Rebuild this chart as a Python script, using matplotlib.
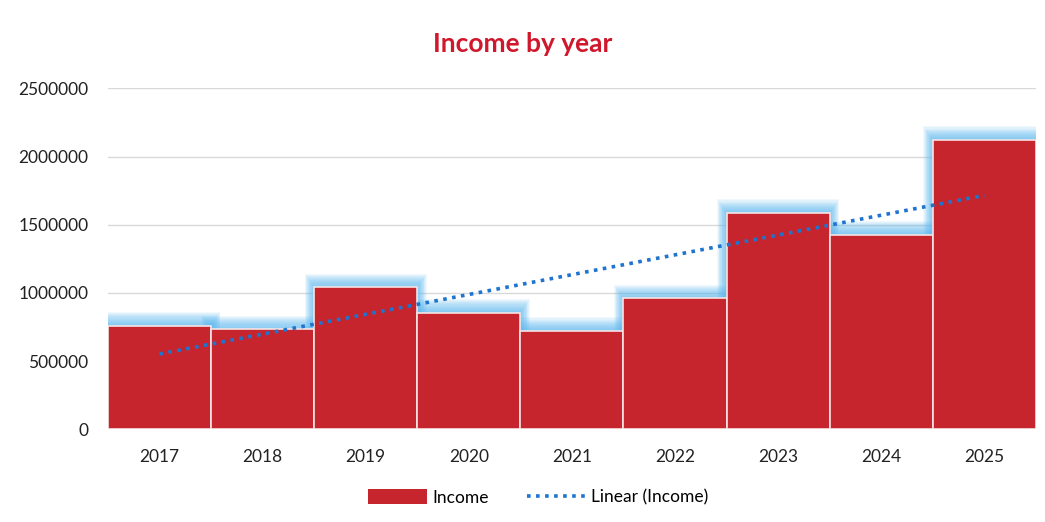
import numpy as np
import matplotlib
matplotlib.use("Agg")
import matplotlib.pyplot as plt
from matplotlib.patches import Patch
from matplotlib.lines import Line2D

# data
years = ["2017", "2018", "2019", "2020", "2021", "2022", "2023", "2024", "2025"]
income = [760000, 733000, 1041000, 855000, 721000, 960000, 1586000, 1427000, 2121000]

plt.rcParams['font.family'] = ['Lato', 'DejaVu Sans']

bar_red = '#c6252d'
glow = '#5ab8f0'

fig = plt.figure(figsize=(10.45, 5.22), dpi=100, facecolor='white')
ax = fig.add_axes([0.1033, 0.1776, 0.888, 0.6532])

x = np.arange(len(years))

# soft blue glow behind the bars (many faint layers so it blends)
for pad in range(100000, 0, -8000):
    ax.bar(x, np.array(income) + pad, width=1.0 + pad / 550000, bottom=0,
           color=glow, alpha=0.09, linewidth=0, zorder=1)

ax.bar(x, income, width=1.0, color=bar_red, edgecolor='#f6e4e5',
       linewidth=1.2, zorder=3)

# linear trendline
slope, icpt = np.polyfit(x, income, 1)
ax.plot([x[0], x[-1]], [icpt + slope * x[0], icpt + slope * x[-1]],
        linestyle=(0, (1, 1.5)), color='#1f74cf', linewidth=2.6, zorder=4)

ax.set_xlim(-0.5, len(years) - 0.5)
ax.set_ylim(0, 2500000)
ax.set_yticks(range(0, 2500001, 500000))
ax.set_yticklabels([str(v) for v in range(0, 2500001, 500000)])
ax.set_xticks(x)
ax.set_xticklabels(years)
ax.tick_params(axis='both', length=0, labelsize=12.5, colors='#222222')
ax.tick_params(axis='x', pad=14)
ax.tick_params(axis='y', pad=14)
ax.yaxis.grid(True, color='#d9d9d9', linewidth=1)
ax.set_axisbelow(True)
for s in ax.spines.values():
    s.set_visible(False)

fig.text(0.5, 0.915, 'Income by year', ha='center', va='center',
         fontsize=19, fontweight='bold', color='#d0182c')

handles = [Patch(facecolor=bar_red, edgecolor='none'),
           Line2D([0], [0], color='#1f74cf', linestyle=(0, (1, 1.5)), linewidth=2.6)]
fig.legend(handles, ['Income', 'Linear (Income)'], loc='center',
           bbox_to_anchor=(0.515, 0.047), ncol=2, frameon=False, fontsize=12.5,
           handlelength=3.4, handleheight=0.9, columnspacing=2.2, handletextpad=0.3)

fig.savefig('out.png', dpi=100, facecolor='white')
